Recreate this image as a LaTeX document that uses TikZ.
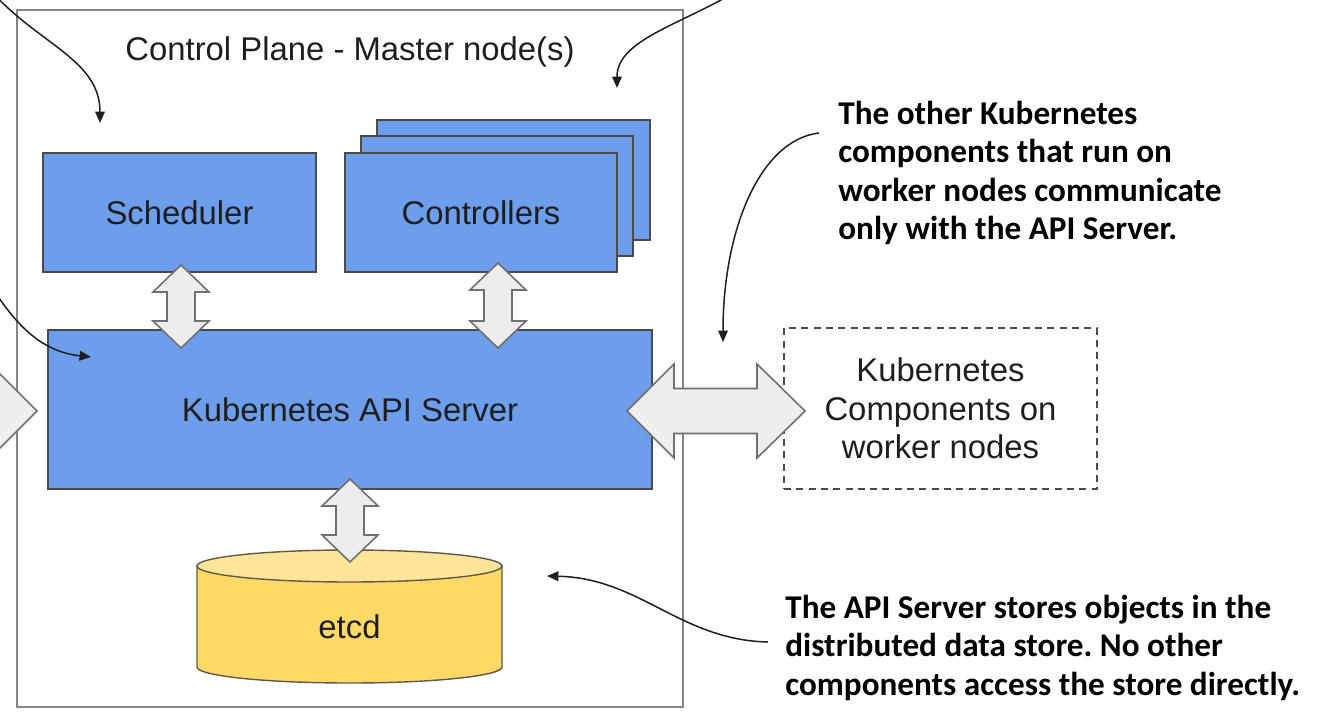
\documentclass[tikz,border=0pt]{standalone}
\usepackage{fontspec}
\setmainfont{Liberation Sans}
\newfontfamily\notefont{Carlito}
\usetikzlibrary{arrows.meta}
\definecolor{kblue}{HTML}{6D9EEB}
\definecolor{kline}{HTML}{4A4A4A}
\definecolor{textc}{HTML}{1E1E1E}
\definecolor{afill}{HTML}{EDEDED}
\definecolor{aline}{HTML}{707070}
\definecolor{cpline}{HTML}{858585}
\definecolor{etcdbody}{HTML}{FFD966}
\definecolor{etcdtop}{HTML}{FFE599}
\definecolor{etcdline}{HTML}{5E5A4A}
\newcommand\lblfont{\fontsize{18.7}{21.8}\selectfont}
\newcommand\notetext{\notefont\bfseries\fontsize{18.9}{21.8}\selectfont\frenchspacing}
\newcommand\vdbl[3]{\draw[blockarrow] (#1,#2) -- (#1+28,#2+27) -- (#1+14,#2+27) -- (#1+14,#3-27) -- (#1+28,#3-27) -- (#1,#3) -- (#1-28,#3-27) -- (#1-14,#3-27) -- (#1-14,#2+27) -- (#1-28,#2+27) -- cycle;}
\begin{document}
\begin{tikzpicture}[x=0.02cm,y=-0.02cm,
  box/.style={draw=kline, fill=kblue, line width=0.8pt, inner sep=0pt, text=textc, font=\lblfont},
  cpbox/.style={draw=cpline, line width=0.9pt, inner sep=0pt},
  wbox/.style={draw=kline, dashed, dash pattern=on 4pt off 3pt, line width=0.8pt, inner sep=0pt, text=textc, font=\lblfont, align=center},
  lbl/.style={text=textc, font=\lblfont, inner sep=0pt},
  note/.style={text=black, font=\notetext, align=left, anchor=north west, inner sep=0pt},
  blockarrow/.style={draw=aline, fill=afill, line width=0.9pt, line join=miter},
  callout/.style={draw=textc, line width=0.85pt, -{Triangle[length=6.5pt,width=5.5pt]}},
  cylbody/.style={fill=etcdbody, draw=etcdline, line width=0.8pt},
  cyltop/.style={fill=etcdtop, draw=etcdline, line width=0.8pt}
]
\useasboundingbox (0,0) rectangle (1323,727);
\begin{scope}
\clip (0,0) rectangle (1323,727);
% control plane frame
\node[cpbox, minimum width=13.32cm, minimum height=13.94cm] (cp) at (350,358.5) {};
\node[lbl, anchor=base] (title) at (350,60) {Control Plane - Master node(s)};
% controllers stack
\node[box, minimum width=5.46cm, minimum height=2.4cm] (c3) at (513.5,180) {};
\node[box, minimum width=5.44cm, minimum height=2.4cm] (c2) at (497,196) {};
\node[box, minimum width=5.44cm, minimum height=2.38cm] (ctrl) at (481,212.5) {Controllers};
% scheduler
\node[box, minimum width=5.46cm, minimum height=2.38cm] (sched) at (179.5,212.5) {Scheduler};
% api server
\node[box, minimum width=12.08cm, minimum height=3.18cm] (api) at (350,409.5) {Kubernetes API Server};
% worker components
\node[wbox, minimum width=6.26cm, minimum height=3.22cm] (worker) at (940.5,408.5) {Kubernetes\\Components on\\worker nodes};
% etcd cylinder
\path[cylbody] (197,566) -- (197,667) arc[start angle=180,end angle=0,x radius=152.5,y radius=16] -- (502,566) -- cycle;
\path[cyltop] (349.5,566) ellipse [x radius=152.5, y radius=16];
\node[lbl] (etcd) at (349.5,627) {etcd};
% block arrows
\vdbl{181}{265}{348}
\vdbl{498}{263}{348}
\vdbl{350}{479}{562}
\draw[blockarrow] (627,411) -- (674,364) -- (674,388.5) -- (757,388.5) -- (757,364) -- (805,411) -- (757,458) -- (757,433.5) -- (674,433.5) -- (674,458) -- cycle;
\draw[blockarrow] (37,411) -- (-10,364) -- (-10,388.5) -- (-60,388.5) -- (-60,433.5) -- (-10,433.5) -- (-10,458) -- cycle;
% annotations
\node[note] (n1) at (838,101) {The other Kubernetes\\components that run on\\worker nodes communicate\\only with the API Server.};
\node[note] (n2) at (785,595) {The API Server stores objects in the\\distributed data store. No other\\components access the store directly.};
% callout arrows
\coordinate (t1) at (100,123);
\coordinate (t2) at (617,88);
\coordinate (t3) at (91,357);
\coordinate (t4) at (723,342);
\coordinate (t5) at (547,576);
\draw[callout] (-8,-8) .. controls (40,45) and (100,60) .. (t1);
\draw[callout] (735,-8) .. controls (680,25) and (617,40) .. (t2);
\draw[callout] (-5,292) .. controls (20,330) and (45,352) .. (t3);
\draw[callout] (819,133) .. controls (760,140) and (723,230) .. (t4);
\draw[callout] (768,642) .. controls (680,640) and (640,578) .. (t5);
\end{scope}
\end{tikzpicture}
\end{document}
